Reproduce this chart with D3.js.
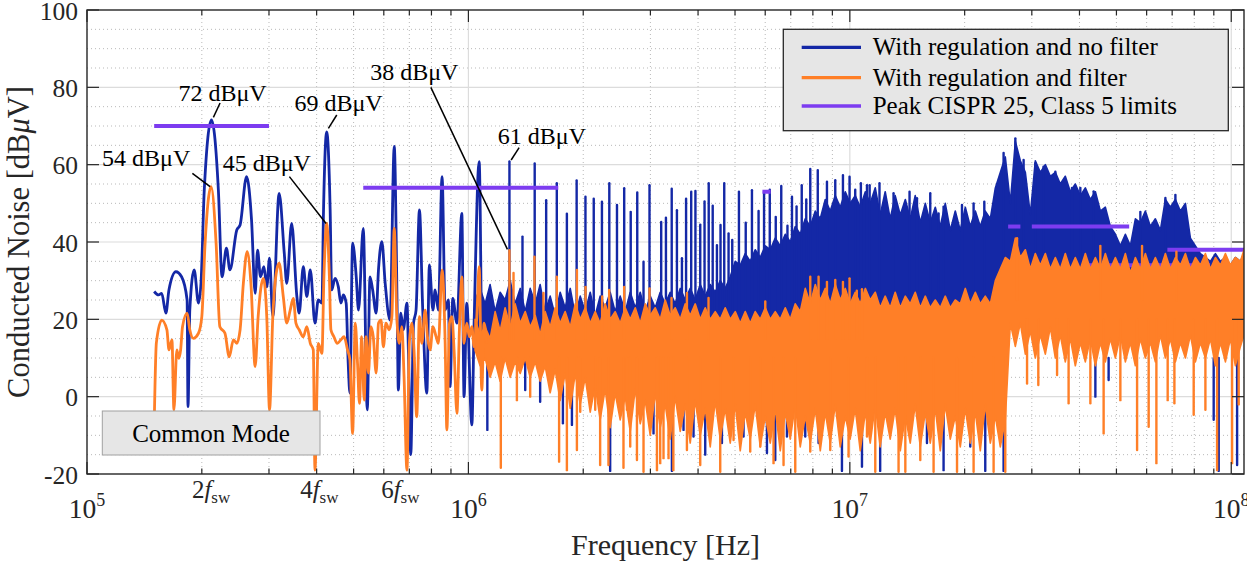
<!DOCTYPE html>
<html>
<head>
<meta charset="utf-8">
<script src="https://cdn.jsdelivr.net/npm/d3@7/dist/d3.min.js"></script>
<style>
html,body{margin:0;padding:0;background:#fff;}
svg text{font-family:"Liberation Serif","Times New Roman",Times,serif;fill:#262626;}
</style>
</head>
<body>
<svg id="chart" width="1247" height="561"></svg>
<script>
// ================= DATA =================
const xDecadeTicks = [1e5, 1e6, 1e7, 1e8];
const xDecadeExp = ["5", "6", "7", "8"];
const yTickValues = [-20, 0, 20, 40, 60, 80, 100];
const fswLabels = [{n: "2", fMHz: 0.2115}, {n: "4", fMHz: 0.4065}, {n: "6", fMHz: 0.663}];
const seriesNames = ["With regulation and no filter", "With regulation and filter", "Peak CISPR 25, Class 5 limits"];

// CISPR 25 class 5 peak limits: [fStart MHz, fEnd MHz, dBuV]
const limitSegments = [[0.15,0.30,70],[0.53,1.72,54],[5.9,6.2,53],[26,28,44],[30,54,44],[41,88,34],[68,108,38]];

// low-frequency traces [MHz, dBuV]
const blueLow = [[0.150,27.2],[0.154,26.3],[0.157,26.7],[0.161,21.6],[0.164,27.6],[0.171,32.3],[0.177,31.0],[0.183,25.0],[0.184,-2.6],[0.186,22.4],[0.191,32.8],[0.196,24.2],[0.199,29.3],[0.203,53.5],[0.212,71.6],[0.221,53.5],[0.226,31.0],[0.232,38.4],[0.237,32.8],[0.247,43.1],[0.252,44.4],[0.262,56.9],[0.270,45.7],[0.276,26.7],[0.280,37.9],[0.285,31.0],[0.291,33.6],[0.296,28.4],[0.301,35.8],[0.307,20.7],[0.319,52.6],[0.329,37.1],[0.334,29.3],[0.344,44.8],[0.355,25.9],[0.360,21.6],[0.369,33.6],[0.377,25.9],[0.385,32.8],[0.396,19.0],[0.404,25.0],[0.413,24.2],[0.417,48.3],[0.425,68.5],[0.434,48.3],[0.438,27.6],[0.447,30.6],[0.456,28.4],[0.463,24.2],[0.470,26.3],[0.478,24.2],[0.484,8.6],[0.489,0.9],[0.497,39.7],[0.508,31.0],[0.515,22.4],[0.530,43.5],[0.543,-3.4],[0.552,31.0],[0.561,27.6],[0.573,21.6],[0.581,32.8],[0.593,40.1],[0.605,29.3],[0.623,19.8],[0.639,64.7],[0.651,19.8],[0.655,1.7],[0.665,21.6],[0.675,17.3],[0.690,24.2],[0.696,12.1],[0.706,-15.0],[0.718,19.0],[0.729,22.4],[0.744,48.3],[0.759,22.4],[0.778,0.9],[0.790,34.1],[0.807,22.4],[0.818,27.6],[0.834,22.4],[0.853,56.9],[0.869,22.4],[0.886,25.0],[0.895,2.6],[0.910,25.4],[0.933,19.0],[0.961,47.4],[0.974,0.0],[0.990,24.2],[1.021,-7.3],[1.035,19.0],[1.067,60.8],[1.080,24.0]];

const orangeLow = [[0.150,-8],[0.152,13.9],[0.157,19.8],[0.162,17.3],[0.164,12.1],[0.167,14.7],[0.169,-3.4],[0.172,12.1],[0.174,9.9],[0.176,12.1],[0.178,18.1],[0.183,21.6],[0.186,17.3],[0.190,15.1],[0.196,16.4],[0.200,20.7],[0.204,39.7],[0.2115,54.3],[0.218,39.7],[0.223,18.1],[0.230,16.4],[0.236,10.3],[0.242,14.7],[0.247,13.8],[0.252,17.3],[0.257,29.3],[0.263,37.5],[0.269,29.3],[0.276,7.8],[0.281,20.7],[0.290,30.6],[0.296,20.7],[0.301,-3.4],[0.307,20.7],[0.3145,32.8],[0.319,34.5],[0.327,25.9],[0.334,19.0],[0.341,22.4],[0.3475,25.4],[0.353,19.0],[0.360,17.3],[0.369,15.5],[0.377,18.1],[0.385,13.8],[0.392,12.1],[0.396,-19.0],[0.404,13.8],[0.413,11.2],[0.418,31.0],[0.425,44.8],[0.432,31.0],[0.436,17.3],[0.444,15.5],[0.453,13.8],[0.463,14.7],[0.472,15.5],[0.482,12.1],[0.489,9.5],[0.497,-9.5],[0.505,19.0],[0.512,8.6],[0.518,-1.7],[0.525,15.5],[0.533,-0.9],[0.539,15.5],[0.547,6.1],[0.555,18.1],[0.563,15.5],[0.573,6.1],[0.581,19.0],[0.590,19.8],[0.5985,12.9],[0.608,19.0],[0.620,17.3],[0.630,20.7],[0.639,43.5],[0.649,20.7],[0.659,13.8],[0.669,18.1],[0.678,5.2],[0.690,-19.0],[0.700,13.8],[0.7105,19.0],[0.720,12.1],[0.732,-5.2],[0.744,20.7],[0.755,13.8],[0.770,22.4],[0.781,15.5],[0.7935,12.1],[0.807,18.1],[0.823,15.5],[0.834,13.8],[0.853,32.8],[0.869,13.8],[0.878,-8.6],[0.892,19.0],[0.905,20.7],[0.917,12.1],[0.933,-4.3],[0.947,17.3],[0.961,31.0],[0.974,13.8],[0.990,19.0],[1.006,15.5],[1.021,18.1],[1.035,12.9],[1.052,20.7],[1.067,33.6],[1.084,1.7],[1.099,19.0],[1.117,13.8]];

// dense high-frequency region: per-frequency max / min envelopes (MHz / dBuV)
const bandFreqMHz = [
 1.041,1.073,1.106,1.140,1.175,1.211,1.248,1.287,1.326,1.367,
 1.409,1.452,1.497,1.542,1.589,1.638,1.688,1.740,1.793,1.849,
 1.906,1.964,2.024,2.086,2.150,2.215,2.283,2.353,2.425,2.500,
 2.577,2.656,2.738,2.821,2.908,2.997,3.089,3.183,3.281,3.381,
 3.485,3.592,3.702,3.815,3.932,4.053,4.177,4.305,4.437,4.573,
 4.713,4.858,5.007,5.160,5.318,5.481,5.649,5.823,6.002,6.185,
 6.375,6.570,6.772,6.979,7.193,7.413,7.641,7.875,8.117,8.365,
 8.622,8.885,9.158,9.438,9.728,10.02,10.33,10.65,10.98,11.31,
 11.66,12.01,12.38,12.76,13.15,13.56,13.98,14.40,14.84,15.30,
 15.77,16.25,16.75,17.26,17.79,18.34,18.90,19.48,20.08,20.69,
 21.33,21.98,22.65,23.35,24.07,24.80,25.56,26.35,27.16,27.99,
 28.85,29.73,30.64,31.58,32.55,33.55,34.58,35.63,36.72,37.85,
 39.01,40.21,41.44,42.72,44.03,45.37,46.76,48.20,49.68,51.20,
 52.77,54.39,56.06,57.77,59.54,61.37,63.25,65.19,67.19,69.25,
 71.38,73.56,75.82,78.14,80.54,83.00,85.55,88.17,90.88,93.66,
 96.54,99.49,102.5,105.7,108.0];

const blueBandHi = [
 25,28,24,29,22,27,25,30,24,28,
 22,28,24,29,22,26,21,27,23,28,
 21,26,22,27,21,26,23,27,22,26,
 22,27,23,27,22,26,23,27,24,27,
 24,28,25,28,25,29,26,29,27,30,
 28,31,35,34,37,35,38,36,39,38,
 41,39,42,40,44,42,46,44,48,46,
 51,48,52,49,53,50,52,49,53,50,
 54,47,53,46,52,47,51,46,52,45,
 50,45,49,44,50,43,48,43,49,44,
 48,44,48,46,54,58,62,50,66,61,
 58,47,61,58,60,57,58,55,57,53,
 55,52,54,51,53,48,49,44,42,39,
 42,39,46,45,48,44,46,43,51,49,
 51,48,50,41,39,37,36,35,37,35,
 36,34,36,35,37];
const blueBandLo = [[1.041,12],[1.964,8],[5.007,3],[25.56,2],[26.03,26],[108,26]];

const orangeBandHi = [
 20,16,18,15,22,17,23,18,24,19,
 22,18,21,16,22,18,23,19,22,18,
 24,20,23,19,22,19,24,20,22,19,
 23,20,23,19,24,21,23,20,25,21,
 23,20,24,21,24,20,23,20,22,20,
 23,20,22,19,22,19,22,20,23,20,
 22,20,23,20,24,22,28,24,29,25,
 28,24,29,25,28,24,27,24,28,25,
 27,23,26,23,27,23,26,24,27,23,
 26,23,25,23,26,23,25,24,28,24,
 27,24,26,24,30,33,36,35,41,36,
 38,33,37,34,37,33,36,33,37,33,
 36,33,37,33,36,33,37,33,36,33,
 37,32,36,33,37,33,36,33,37,33,
 36,34,37,33,36,34,37,33,36,34,
 37,34,36,35,38];
const orangeBandLo = [
 12,8,10,5,9,4,10,5,9,6,
 10,5,9,4,8,1,7,-1,6,-3,
 6,-2,5,-4,3,-6,2,-8,1,-6,
 0,-9,2,-7,-1,-10,1,-8,-2,-11,
 0,-9,-2,-12,-1,-10,-3,-13,-1,-11,
 -3,-12,-2,-14,-4,-11,-2,-13,-5,-12,
 -3,-14,-4,-11,-2,-13,-5,-12,-3,-14,
 -4,-12,-2,-13,-5,-11,-3,-14,-4,-12,
 -2,-13,-4,-11,-3,-14,-5,-12,-2,-13,
 -4,-12,-3,-14,-2,-11,-5,-13,-3,-12,
 -4,-14,-2,-12,-5,-13,-6,19,13,19,
 11,17,10,16,11,18,10,16,9,15,
 8,14,9,15,8,14,9,15,10,16,
 9,14,8,15,10,14,9,16,10,15,
 9,14,10,16,9,14,10,15,8,14,
 9,15,8,13,16];

// individual narrow spikes [MHz, from dBuV, to dBuV]
const blueSpikes = [
 [1.281,20,60.8],[1.386,20,41.4],[1.492,20,60.3],[1.599,20,50.8],[1.705,20,55.2],[1.812,20,47.3],[1.922,20,55.9],[2.027,20,51.7],[2.131,20,51.2],[2.239,20,50.4],
 [2.341,20,55.2],[2.452,20,49.6],[2.561,20,53.9],[2.664,20,47.8],[2.771,20,52.8],[2.878,20,34.9],[2.984,20,54.7],[3.202,20,45.2],[3.295,20,46.3],[3.412,20,53.8],
 [3.521,20,48.2],[3.629,20,35.8],[3.721,20,51.2],[3.838,20,53.0],[3.937,20,53.2],[4.053,20,44.5],[4.160,20,50.5],[4.266,20,55.2],[4.370,20,49.4],[4.483,20,39.2],
 [4.581,20,44.4],[4.685,20,55.2],[4.809,20,42.2],[4.917,20,40.5],[5.120,20,53.0],[5.334,20,45.0],[5.538,20,53.4],[5.764,20,48.0],[5.958,20,53.0],[6.167,20,53.5],
 [6.394,20,46.5],[6.610,20,54.5],[6.862,20,44.2],[7.052,20,51.7],[7.250,20,49.2],[7.480,20,54.7],[7.687,20,51.0],[7.875,20,58.9],[8.240,20,58.6],[8.710,20,55.6],
 [9.158,20,56.0],[9.593,20,57.3],[9.983,20,56.9],[10.33,20,53.5],[10.69,20,55.2],[11.09,20,54.7],[11.27,20,54.7],[11.96,20,55.2],[13.02,20,52.6],[14.34,20,53.0],
 [15.00,20,51.3],[16.25,20,52.6],[17.09,20,47.4],[17.61,20,49.1],[19.68,20,49.6],[21.11,20,50.0],[22.52,20,50.4],[25.30,20,63.0],[27.16,20,66.8],[28.55,20,61.2],
 [30.64,20,60.4],[32.21,20,59.5],[34.58,20,58.2],[38.24,20,54.0],[40.21,20,54.0],[43.58,20,53.1],[57.77,20,47.8],[67.19,20,51.4],[71.38,20,52.2],
 [1.121,10,-8.6],[1.409,10,1.7],[1.542,10,-1.3],[1.769,10,-6.9],[1.868,10,-7.3],[2.353,10,-19.2],[3.057,10,-9.5],[3.416,10,-19.2],[3.664,10,-8.6],[3.892,10,-10.3],
 [4.177,10,-15.0],[4.620,10,-12.0],[5.264,10,-10.3],[6.063,10,-14.6],[6.375,10,-16.4],[6.841,10,-10.3],[7.641,10,-10.3],[8.280,10,-12.0],[9.535,10,-19.2],[10.76,10,-18.1],
 [12.01,10,-19.2],[15.93,10,-12.0],[17.61,10,-19.0],[20.69,10,-12.9],[22.65,10,-19.2],[25.30,10,-19.2],[44.03,10,0.0],[47.70,10,4.3],[89.94,10,-6.0],[92.70,10,-19.2],[103.6,10,-17.7]];

const orangeSpikes = [
 [1.281,15,37.9],[1.313,15,32.0],[1.490,15,36.2],[1.573,15,26.8],[1.705,15,31.0],[1.925,15,32.8],[2.028,15,28.4],[2.242,15,25.9],[2.339,15,27.6],[2.561,15,28.4],
 [2.984,15,28.0],[3.408,15,25.5],[3.740,15,26.8],[4.261,15,25.5],[6.002,15,24.6],[7.875,15,31.0],[8.280,15,31.0],[8.710,15,29.7],[9.158,15,30.2],[9.593,15,29.7],
 [9.983,15,30.6],[10.43,15,27.4],[10.76,15,27.8],[27.44,25,41.0],[45.37,25,39.0],[58.36,25,39.0],[71.81,25,37.5],
 [1.216,10,-18.4],[1.340,10,-0.9],[1.452,10,0.0],[1.729,10,-16.8],[1.812,10,-19.0],[1.925,10,-13.8],[1.964,10,-3.9],[2.150,10,-3.4],[2.215,10,-17.7],[2.329,10,-17.7],
 [2.550,10,-18.4],[2.603,10,-3.4],[2.656,10,-12.9],[2.766,10,-16.4],[2.878,10,-19.4],[3.121,10,-19.0],[3.183,10,-17.2],[3.247,10,-15.9],[3.347,10,-15.9],[3.446,10,-19.0],
 [3.740,10,-13.8],[4.053,10,-17.7],[4.573,10,-19.4],[4.956,10,-11.2],[5.481,10,-14.2],[5.823,10,-12.9],[6.309,10,-17.2],[6.702,10,-17.7],[7.193,10,-19.4],[7.875,10,-14.2],
 [8.885,10,-13.8],[9.923,10,-15.5],[11.09,10,-10.3],[11.66,10,-19.4],[13.42,10,-19.4],[13.98,10,-19.4],[15.30,10,-16.4],[16.58,10,-19.4],[19.10,10,-19.4],[21.11,10,-19.4],
 [23.82,10,-19.4],[25.56,10,-19.4],[29.15,20,3.4],[31.20,20,3.0],[34.94,20,5.6],[37.46,20,-1.7],[42.72,20,-1.7],[46.28,20,-9.5],[51.20,20,-0.9],[56.64,20,-13.8],
 [60.74,20,-7.8],[63.64,20,-17.2],[68.13,20,-0.9],[70.95,20,-1.7],[79.71,20,-4.7],[85.55,20,-3.4],[91.81,20,-19.0],[100.5,20,-17.2],[104.6,20,-2.0]];

// peak annotations: marked point (MHz, dBuV) + label / leader offsets in px
const annotations = [
 {text:"72 dBμV", f:0.212, db:71.6, tx:-33, ty:-19, sx:8.6, sy:-16.8, ex:1.9, ey:-2.5},
 {text:"54 dBμV", f:0.2115, db:54.3, tx:-109, ty:-21, sx:-18.7, sy:-13.4, ex:-1, ey:0},
 {text:"45 dBμV", f:0.425, db:44.8, tx:-104, ty:-52.8, sx:-37.3, sy:-46.8, ex:-0.6, ey:0},
 {text:"69 dBμV", f:0.425, db:68.5, tx:-32.3, ty:-21.1, sx:10.1, sy:-16.8, ex:1.7, ey:-3.5},
 {text:"38 dBμV", f:1.281, db:37.9, tx:-139.3, ty:-170.1, sx:-78.6, sy:-162.8, ex:-2, ey:-0.8},
 {text:"61 dBμV", f:1.281, db:60.8, tx:-11.6, ty:-17.6, sx:9.7, sy:-13.9, ex:1.7, ey:-1.6}
];

// ================= DRAWING =================
const COL = {blue:"#1428a6", orange:"#ff7f27", purple:"#7d3cf0", axis:"#262626"};
const L = 87, R = 1244, T = 10, B = 474;
const svg = d3.select("#chart");
const x = d3.scaleLog().domain([1e5, 1.08e8]).range([L, R]);
const y = d3.scaleLinear().domain([-20, 100]).range([B, T]);
const X = m => x(m * 1e6);

// grid
const grid = svg.append("g");
const minorX = [];
for (let k = 5; k <= 7; k++) for (let m = 2; m <= 9; m++) minorX.push(m * Math.pow(10, k));
const minorY = d3.range(-15, 100, 5).filter(v => v % 20 !== 0);
grid.selectAll(".gmx").data(minorX).join("line")
  .attr("x1", d => x(d)).attr("x2", d => x(d)).attr("y1", T).attr("y2", B)
  .attr("stroke", "#b9b9b9").attr("stroke-width", 1).attr("stroke-dasharray", "1,3");
grid.selectAll(".gmy").data(minorY).join("line")
  .attr("x1", L).attr("x2", R).attr("y1", d => y(d)).attr("y2", d => y(d))
  .attr("stroke", "#b9b9b9").attr("stroke-width", 1).attr("stroke-dasharray", "1,3");
grid.selectAll(".gMx").data(xDecadeTicks.slice(1)).join("line")
  .attr("x1", d => x(d)).attr("x2", d => x(d)).attr("y1", T).attr("y2", B)
  .attr("stroke", "#dcdcdc").attr("stroke-width", 1.2);
grid.selectAll(".gMy").data(yTickValues.slice(1, -1)).join("line")
  .attr("x1", L).attr("x2", R).attr("y1", d => y(d)).attr("y2", d => y(d))
  .attr("stroke", "#dcdcdc").attr("stroke-width", 1.2);

svg.append("clipPath").attr("id", "plotclip").append("rect")
  .attr("x", L).attr("y", T).attr("width", R - L).attr("height", B - T);
const plot = svg.append("g").attr("clip-path", "url(#plotclip)");

const lowLine = d3.line().x(d => X(d[0])).y(d => y(d[1])).curve(d3.curveMonotoneX);
function polyPath(top, bot) {
  const pts = top.concat(bot.slice().reverse());
  return "M" + pts.map(p => X(p[0]).toFixed(2) + "," + y(p[1]).toFixed(2)).join("L") + "Z";
}
function aligned(vals) {
  return bandFreqMHz.map((f, i) => [f, vals[i]]).filter(d => d[1] != null);
}

// blue (no filter)
plot.append("path").attr("d", polyPath(aligned(blueBandHi), blueBandLo))
  .attr("fill", COL.blue).attr("stroke", COL.blue).attr("stroke-width", 1.6).attr("stroke-linejoin", "round");
plot.selectAll(".bs").data(blueSpikes).join("line")
  .attr("x1", d => X(d[0])).attr("x2", d => X(d[0])).attr("y1", d => y(d[1])).attr("y2", d => y(d[2]))
  .attr("stroke", COL.blue).attr("stroke-width", 2.4).attr("stroke-linecap", "round");
plot.append("path").attr("d", lowLine(blueLow)).attr("fill", "none")
  .attr("stroke", COL.blue).attr("stroke-width", 2.8).attr("stroke-linejoin", "round");

// limits
plot.selectAll(".lim").data(limitSegments).join("line")
  .attr("x1", d => X(d[0])).attr("x2", d => X(d[1])).attr("y1", d => y(d[2])).attr("y2", d => y(d[2]))
  .attr("stroke", COL.purple).attr("stroke-width", 4);

// orange (with filter)
plot.append("path").attr("d", polyPath(aligned(orangeBandHi), aligned(orangeBandLo)))
  .attr("fill", COL.orange).attr("stroke", COL.orange).attr("stroke-width", 1.6).attr("stroke-linejoin", "round");
plot.selectAll(".os").data(orangeSpikes).join("line")
  .attr("x1", d => X(d[0])).attr("x2", d => X(d[0])).attr("y1", d => y(d[1])).attr("y2", d => y(d[2]))
  .attr("stroke", COL.orange).attr("stroke-width", 2.4).attr("stroke-linecap", "round");
plot.append("path").attr("d", lowLine(orangeLow)).attr("fill", "none")
  .attr("stroke", COL.orange).attr("stroke-width", 2.8).attr("stroke-linejoin", "round");

// annotations
const ann = svg.append("g");
annotations.forEach(a => {
  const px = X(a.f), py = y(a.db);
  ann.append("line").attr("x1", px + a.sx).attr("y1", py + a.sy).attr("x2", px + a.ex).attr("y2", py + a.ey)
    .attr("stroke", "#000").attr("stroke-width", 1.5);
  ann.append("text").attr("x", px + a.tx).attr("y", py + a.ty).attr("font-size", 24)
    .style("fill", "#000").text(a.text);
});

// "Common Mode" box
svg.append("rect").attr("x", 102.3).attr("y", 411).attr("width", 217.7).attr("height", 44)
  .attr("fill", "#e6e6e6").attr("stroke", "#a0a0a0").attr("stroke-width", 1);
svg.append("text").attr("x", 211).attr("y", 442).attr("text-anchor", "middle")
  .attr("font-size", 25).style("fill", "#000").text("Common Mode");

// axes frame and ticks
const ax = svg.append("g").attr("stroke", COL.axis);
ax.append("rect").attr("x", L).attr("y", T).attr("width", R - L).attr("height", B - T)
  .attr("fill", "none").attr("stroke-width", 1.4);
xDecadeTicks.forEach(v => {
  ax.append("line").attr("x1", x(v)).attr("x2", x(v)).attr("y1", B).attr("y2", B - 12).attr("stroke-width", 1.2);
  ax.append("line").attr("x1", x(v)).attr("x2", x(v)).attr("y1", T).attr("y2", T + 12).attr("stroke-width", 1.2);
});
minorX.forEach(v => {
  ax.append("line").attr("x1", x(v)).attr("x2", x(v)).attr("y1", B).attr("y2", B - 5.5).attr("stroke-width", 1.2);
  ax.append("line").attr("x1", x(v)).attr("x2", x(v)).attr("y1", T).attr("y2", T + 5.5).attr("stroke-width", 1.2);
});
yTickValues.forEach(v => {
  ax.append("line").attr("x1", L).attr("x2", L + 12).attr("y1", y(v)).attr("y2", y(v)).attr("stroke-width", 1.2);
  ax.append("line").attr("x1", R).attr("x2", R - 12).attr("y1", y(v)).attr("y2", y(v)).attr("stroke-width", 1.2);
});

// tick labels
yTickValues.forEach(v => {
  svg.append("text").attr("x", 78).attr("y", y(v) + 9.5).attr("text-anchor", "end")
    .attr("font-size", 25.5).text(v);
});
xDecadeTicks.forEach((v, i) => {
  const t = svg.append("text").attr("x", x(v)).attr("y", 518).attr("text-anchor", "middle").attr("font-size", 27.5);
  t.append("tspan").text("10");
  t.append("tspan").attr("font-size", 18).attr("dy", -12).text(xDecadeExp[i]);
});
fswLabels.forEach(l => {
  const t = svg.append("text").attr("x", X(l.fMHz)).attr("y", 498).attr("text-anchor", "middle").attr("font-size", 25);
  t.append("tspan").text(l.n);
  t.append("tspan").attr("font-style", "italic").text("f");
  t.append("tspan").attr("font-size", 17).attr("dy", 5).text("sw");
});

// axis titles
svg.append("text").attr("x", (L + R) / 2).attr("y", 555).attr("text-anchor", "middle")
  .attr("font-size", 30).text("Frequency [Hz]");
const yl = svg.append("text").attr("transform", `translate(29,${(T + B) / 2}) rotate(-90)`)
  .attr("text-anchor", "middle").attr("font-size", 30.5);
yl.append("tspan").text("Conducted Noise [dB");
yl.append("tspan").attr("font-style", "italic").text("μ");
yl.append("tspan").text("V]");

// legend
const lg = svg.append("g");
lg.append("rect").attr("x", 783.3).attr("y", 29.3).attr("width", 445).attr("height", 101.4)
  .attr("fill", "#e6e6e6").attr("stroke", COL.axis).attr("stroke-width", 1.3);
const legendRows = [47.3, 77.7, 106];
const legendCols = [COL.blue, COL.orange, COL.purple];
seriesNames.forEach((s, i) => {
  lg.append("line").attr("x1", 801.7).attr("x2", 861).attr("y1", legendRows[i]).attr("y2", legendRows[i])
    .attr("stroke", legendCols[i]).attr("stroke-width", 3.3);
  lg.append("text").attr("x", 872.7).attr("y", legendRows[i] + 8).attr("font-size", 25)
    .style("fill", "#000").text(s);
});
</script>
</body>
</html>
